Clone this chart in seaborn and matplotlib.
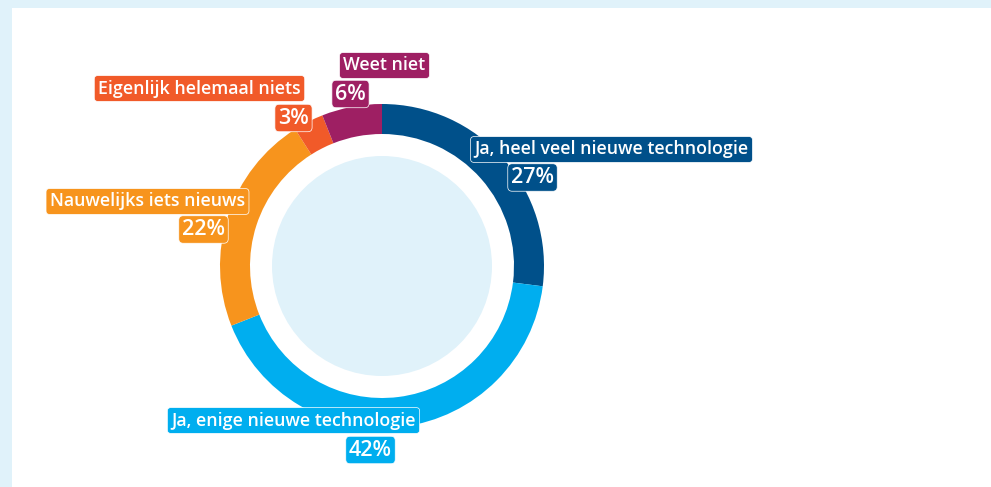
import matplotlib
matplotlib.use("Agg")
import matplotlib.pyplot as plt
import seaborn as sns
from matplotlib.patches import Rectangle, Circle

# ---- data ----
categories = [
    "Ja, heel veel nieuwe technologie",
    "Ja, enige nieuwe technologie",
    "Nauwelijks iets nieuws",
    "Eigenlijk helemaal niets",
    "Weet niet",
]
values = [27, 42, 22, 3, 6]
colors = ["#00508A", "#00AEEF", "#F7941D", "#F15A29", "#9E1F63"]

# ---- layout (pixel coordinates, y measured from top) ----
W, H = 991, 487
center_px = (382, 266)
outer_r, ring_w, inner_disc_r = 162, 30, 110
name_pos = [(611.5, 149.5), (293.5, 420.5), (147.5, 201.5), (199.5, 88.5), (384.5, 65.5)]
pct_pos = [(532.5, 177.5), (370.5, 450), (203.5, 229.5), (293.5, 118), (350.5, 94)]

sns.set_theme(style="white")
plt.rcParams["font.family"] = ["Open Sans", "DejaVu Sans"]

bg = "#E0F2FA"
fig = plt.figure(figsize=(W / 100, H / 100), dpi=100, facecolor=bg)
ax = fig.add_axes([0, 0, 1, 1])
ax.set_facecolor(bg)

def fy(y):
    return H - y

# white panel
ax.add_patch(Rectangle((12, 0), W - 12, H - 8, facecolor="white", edgecolor="none", zorder=0))

cx, cy = center_px[0], fy(center_px[1])
ax.pie(values, colors=colors, startangle=90, counterclock=False,
       radius=outer_r, center=(cx, cy), frame=True,
       wedgeprops=dict(width=ring_w, edgecolor="none", linewidth=0))
ax.add_patch(Circle((cx, cy), inner_disc_r, facecolor=bg, edgecolor="none", zorder=1))

for cat, v, c, (nx, ny), (px, py) in zip(categories, values, colors, name_pos, pct_pos):
    ax.text(nx, fy(ny), cat, ha="center", va="center", color="white", fontsize=12.8,
            fontweight="semibold", zorder=5,
            bbox=dict(boxstyle="round,pad=0.22,rounding_size=0.2", facecolor=c,
                      edgecolor="white", linewidth=0.5))
    ax.text(px, fy(py), f"{v}%", ha="center", va="center", color="white", fontsize=15.5,
            fontweight="semibold", zorder=5,
            bbox=dict(boxstyle="round,pad=0.15,rounding_size=0.2", facecolor=c,
                      edgecolor="white", linewidth=0.5))

ax.set_xlim(0, W)
ax.set_ylim(0, H)
ax.set_aspect("auto")
ax.axis("off")

fig.savefig("out.png", dpi=100, facecolor=bg)
